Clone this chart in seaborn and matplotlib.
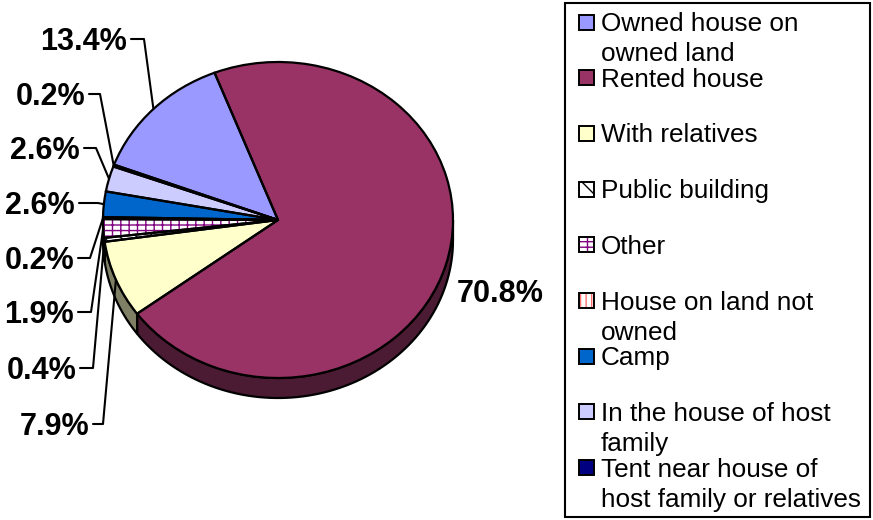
import numpy as np
import matplotlib
matplotlib.use("Agg")
import matplotlib.pyplot as plt
import seaborn as sns
from matplotlib.patches import Rectangle

# === data ===
categories = ["Owned house on\nowned land", "Rented house", "With relatives",
              "Public building", "Other", "House on land not\nowned", "Camp",
              "In the house of host\nfamily", "Tent near house of\nhost family or relatives"]
shares = [13.4, 70.8, 7.9, 0.4, 1.9, 0.2, 2.6, 2.6, 0.2]

# === style ===
face_colors = ["#9999FF", "#993366", "#FFFFCC", "#FFFFFF", "#FFFFFF",
               "#FFFFFF", "#0066CC", "#CCCCFF", "#000080"]
side_colors = ["#4d4d80", "#4b1a33", "#7f7f66", "#000000", "#8a8a8a",
               "#8a8a8a", "#003366", "#666680", "#000040"]
hatches = [None, None, None, "\\\\", "---||", "|||", None, None, None]
hatch_colors = [None, None, None, "black", "#800080", "#FF7070", None, None, None]

# label layout in pixels: (right edge, baseline, elbow x) - rented is placed apart
label_layout = [(127, 50, 144), None, (89, 435, 103), (76, 379, 93), (74, 323, 91),
                (74, 269, 90), (75, 214, 98), (80, 159, 96), (85, 105, 100)]

sns.set_style("white")
plt.rcParams["font.family"] = ["Liberation Sans", "DejaVu Sans"]
plt.rcParams["text.color"] = "black"
plt.rcParams["hatch.linewidth"] = 1.0

W, H = 873, 520
cx, cy, rx, ry = 278, 220, 175, 158   # pie centre / radii in pixels
depth = 20
start = 159.5

fig = plt.figure(figsize=(W / 100, H / 100), dpi=100)
ax = fig.add_axes([0, 0, 1, 1])

# top face fill (with hatches)
wedges, _ = ax.pie(shares, colors=face_colors, startangle=start, counterclock=False,
                   wedgeprops=dict(linewidth=0, zorder=3))
for w, h, hc in zip(wedges, hatches, hatch_colors):
    if h:
        w.set_hatch(h)
        w.set_edgecolor(hc)
# top face outlines
ax.pie(shares, colors=["none"] * len(shares), startangle=start, counterclock=False,
       wedgeprops=dict(edgecolor="black", linewidth=1.6, zorder=4))

# 3d side of the pie (front half only)
d = depth / ry
for w, sc in zip(wedges, side_colors):
    for k in (-720, -360, 0, 360):
        a = max(w.theta1, 180 + k)
        b = min(w.theta2, 360 + k)
        if b > a:
            t = np.radians(np.linspace(a, b, 80))
            xs, ys = np.cos(t), np.sin(t)
            ax.fill(np.concatenate([xs, xs[::-1]]), np.concatenate([ys, ys[::-1] - d]),
                    facecolor=sc, edgecolor="black", linewidth=1.6, zorder=1)

ax.set_aspect("auto")
ax.set_xlim(-cx / rx, (W - cx) / rx)
ax.set_ylim((cy - H) / ry, cy / ry)
ax.axis("off")

# overlay in pixel coordinates for labels + legend
lax = fig.add_axes([0, 0, 1, 1], facecolor="none")
lax.set_xlim(0, W)
lax.set_ylim(H, 0)
lax.axis("off")

for w, v, lay in zip(wedges, shares, label_layout):
    txt = f"{v:.1f}%"
    if lay is None:
        lax.text(457, 302, txt, ha="left", va="baseline", fontsize=22,
                 fontweight="bold", color="black")
        continue
    xr, yb, xe = lay
    mid = np.radians((w.theta1 + w.theta2) / 2)
    rim_x, rim_y = cx + rx * np.cos(mid), cy - ry * np.sin(mid)
    lax.text(xr, yb, txt, ha="right", va="baseline", fontsize=22,
             fontweight="bold", color="black")
    yc = yb - 11
    lax.plot([xr + 4, xe, rim_x], [yc, yc, rim_y], color="black", linewidth=1.5)

# legend box
lax.add_patch(Rectangle((565, 3), 305, 514, facecolor="white", edgecolor="black", linewidth=1.5))
for i, (cat, fc, h, hc) in enumerate(zip(categories, face_colors, hatches, hatch_colors)):
    y0 = 22 + i * 55.7
    if h:
        lax.add_patch(Rectangle((579, y0 - 7.5), 15, 15, facecolor=fc, edgecolor=hc,
                                hatch=h, linewidth=0))
        lax.add_patch(Rectangle((579, y0 - 7.5), 15, 15, facecolor="none",
                                edgecolor="black", linewidth=1.4))
    else:
        lax.add_patch(Rectangle((579, y0 - 7.5), 15, 15, facecolor=fc,
                                edgecolor="black", linewidth=1.4))
    for j, line in enumerate(cat.split("\n")):
        lax.text(601, y0 + 9 + j * 30, line, ha="left", va="baseline",
                 fontsize=18.8, color="black")

fig.savefig("out.png", dpi=100, facecolor="white")
